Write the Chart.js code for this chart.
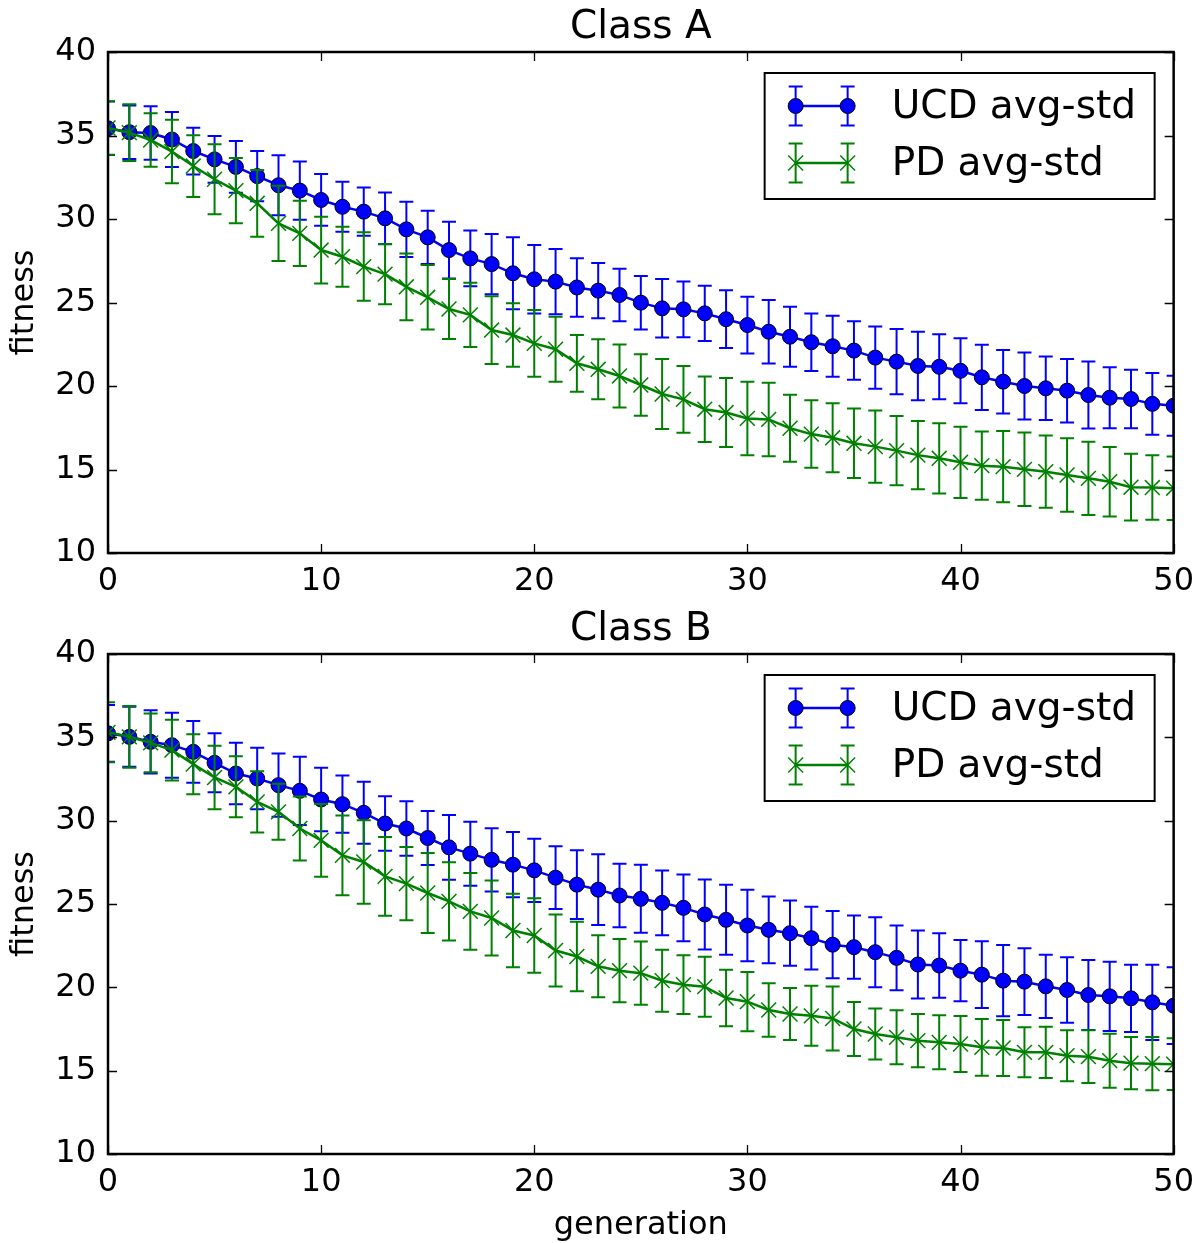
<!DOCTYPE html>
<html>
<head>
<meta charset="utf-8">
<title>Fitness per generation</title>
<script src="https://cdn.jsdelivr.net/npm/chart.js@4.4.1/dist/chart.umd.min.js"></script>
<style>
  html, body { margin: 0; padding: 0; background: #fff; }
  #wrap { position: relative; width: 1203px; height: 1243px; }
  #wrap canvas { position: absolute; left: 0; }
  #chartA { top: 0; }
  #chartB { top: 600px; }
</style>
</head>
<body>
<div id="wrap">
  <canvas id="chartA" width="1203" height="600"></canvas>
  <canvas id="chartB" width="1203" height="643"></canvas>
</div>
<script>
// Generations on the x axis
const generation = [0,1,2,3,4,5,6,7,8,9,10,11,12,13,14,15,16,17,18,19,20,21,22,23,24,25,
  26,27,28,29,30,31,32,33,34,35,36,37,38,39,40,41,42,43,44,45,46,47,48,49,50];

// Class A: mean fitness and standard deviation per generation
const ucdAvgA = [35.43,35.2,35.15,34.76,34.07,33.57,33.12,32.57,32.02,31.7,31.14,30.73,30.44,30.04,29.38,28.9,
  28.14,27.64,27.3,26.75,26.39,26.25,25.9,25.71,25.45,24.99,24.65,24.59,24.35,24.0,23.65,23.25,22.95,22.62,
  22.38,22.12,21.7,21.46,21.2,21.15,20.91,20.52,20.26,20.0,19.86,19.72,19.46,19.3,19.22,18.93,18.82];
const ucdStdA = [1.6,1.6,1.6,1.65,1.4,1.4,1.55,1.5,1.8,1.75,1.55,1.5,1.45,1.55,1.65,1.6,1.7,1.67,1.8,2.15,
  2.05,1.95,1.75,1.65,1.57,1.6,1.75,1.67,1.65,1.73,1.7,1.9,1.8,1.72,1.82,1.75,1.87,1.95,2.05,1.95,1.95,1.95,
  1.9,2.0,1.9,1.9,2.0,1.83,1.75,1.85,1.8];
const pdAvgA = [35.45,35.17,34.73,34.04,33.17,32.38,31.7,30.94,29.74,29.14,28.14,27.74,27.15,26.7,25.94,25.31,
  24.61,24.26,23.35,23.05,22.55,22.2,21.36,21.0,20.6,20.06,19.52,19.2,18.61,18.41,18.06,18.0,17.47,17.12,
  16.9,16.57,16.37,16.13,15.86,15.67,15.43,15.23,15.17,15.01,14.87,14.67,14.47,14.27,13.94,13.92,13.88];
const pdStdA = [1.6,1.7,1.6,1.9,1.85,2.1,1.95,2.0,2.25,1.95,2.0,1.8,2.05,1.8,2.0,1.93,1.8,1.93,2.03,1.9,
  2.0,1.95,1.7,1.8,1.88,1.84,2.1,2.0,1.96,2.07,2.2,2.2,2.0,2.02,2.06,2.08,2.16,2.07,2.04,2.1,2.13,2.04,
  2.13,2.2,2.16,2.2,2.19,2.08,2.0,1.93,1.9];

// Class B: mean fitness and standard deviation per generation
const ucdAvgB = [35.24,35.03,34.73,34.53,34.13,33.47,32.83,32.53,32.13,31.79,31.27,30.99,30.47,29.83,29.53,28.96,
  28.4,28.02,27.65,27.36,27.02,26.58,26.16,25.86,25.51,25.31,25.07,24.77,24.37,24.05,23.71,23.45,23.25,22.95,
  22.56,22.41,22.11,21.77,21.37,21.31,21.0,20.76,20.4,20.34,20.06,19.84,19.54,19.46,19.34,19.1,18.9];
const ucdStdB = [1.7,1.8,1.9,1.95,1.85,1.77,1.84,1.85,1.9,2.05,1.9,1.72,1.86,1.64,1.64,1.62,1.94,1.92,1.9,1.96,
  1.9,1.88,2.06,2.12,1.9,2.04,1.94,2.0,2.1,2.1,2.14,2.0,1.96,1.88,2.02,1.9,2.1,1.94,2.04,1.94,1.84,2.0,
  2.14,2.0,1.9,1.96,2.1,2.08,2.02,2.26,2.3];
const pdAvgB = [35.3,35.03,34.67,34.23,33.39,32.59,32.03,31.13,30.53,29.53,28.82,27.92,27.52,26.66,26.22,25.66,
  25.16,24.56,24.16,23.41,23.11,22.21,21.85,21.26,21.0,20.85,20.4,20.16,20.04,19.36,19.14,18.64,18.4,18.29,
  18.13,17.5,17.2,17.0,16.8,16.7,16.6,16.4,16.36,16.1,16.1,15.9,15.84,15.6,15.45,15.42,15.39];
const pdStdB = [1.8,1.85,1.76,1.82,1.8,1.9,1.83,1.84,1.68,1.92,2.18,2.39,2.5,2.36,2.2,2.4,2.35,2.3,2.25,2.2,
  2.24,2.16,2.08,1.86,1.9,1.9,1.86,1.76,1.8,1.7,1.78,1.6,1.56,1.8,1.92,1.62,1.53,1.62,1.6,1.62,1.68,1.7,
  1.68,1.5,1.54,1.53,1.58,1.62,1.57,1.6,1.55];

// Axis ticks
const xTicks = [0, 10, 20, 30, 40, 50];
const yTicks = [10, 15, 20, 25, 30, 35, 40];

const seriesNames = ['UCD avg-std', 'PD avg-std'];
const BLUE = '#0000ff';
const GREEN = '#008000';
const FONT = 'DejaVu Sans';
const TICK_SIZE = 32;
const BIG_SIZE = 39;
const CAP = 7;

Chart.defaults.font.family = FONT;
Chart.defaults.color = '#000';

// Vertical error bars with caps, drawn just before each dataset's line and markers
const errorBars = {
  id: 'errorBars',
  beforeDatasetDraw(chart, args) {
    const ds = chart.data.datasets[args.index];
    if (!ds.errors) return;
    const { ctx, chartArea: a, scales } = chart;
    ctx.save();
    ctx.beginPath();
    ctx.rect(a.left, a.top, a.right - a.left, a.bottom - a.top);
    ctx.clip();
    ctx.strokeStyle = ds.borderColor;
    ctx.lineWidth = 2;
    ctx.beginPath();
    ds.data.forEach((p, i) => {
      const x = scales.x.getPixelForValue(p.x);
      const yt = scales.y.getPixelForValue(p.y + ds.errors[i]);
      const yb = scales.y.getPixelForValue(p.y - ds.errors[i]);
      ctx.moveTo(x, yt); ctx.lineTo(x, yb);
      ctx.moveTo(x - CAP, yt); ctx.lineTo(x + CAP, yt);
      ctx.moveTo(x - CAP, yb); ctx.lineTo(x + CAP, yb);
    });
    ctx.stroke();
    ctx.restore();
  }
};

// Box around the plot with inward ticks on all four sides
const frame = {
  id: 'frame',
  afterDatasetsDraw(chart) {
    const { ctx, chartArea: a, scales } = chart;
    const len = 9;
    ctx.save();
    ctx.strokeStyle = '#000';
    ctx.lineWidth = 1.3;
    ctx.beginPath();
    xTicks.forEach(t => {
      const x = Math.round(scales.x.getPixelForValue(t)) + 0.5;
      ctx.moveTo(x, a.bottom); ctx.lineTo(x, a.bottom - len);
      ctx.moveTo(x, a.top); ctx.lineTo(x, a.top + len);
    });
    yTicks.forEach(t => {
      const y = Math.round(scales.y.getPixelForValue(t)) + 0.5;
      ctx.moveTo(a.left, y); ctx.lineTo(a.left + len, y);
      ctx.moveTo(a.right, y); ctx.lineTo(a.right - len, y);
    });
    ctx.stroke();
    ctx.lineWidth = 2.5;
    ctx.strokeRect(a.left, a.top, a.right - a.left, a.bottom - a.top);
    ctx.restore();
  }
};

// Boxed legend in the upper right of the plot
const boxLegend = {
  id: 'boxLegend',
  afterDraw(chart) {
    const { ctx, chartArea: a } = chart;
    const w = 390, h = 126;
    const bx = a.right - 19 - w, by = a.top + 21;
    ctx.save();
    ctx.fillStyle = '#fff';
    ctx.fillRect(bx, by, w, h);
    ctx.strokeStyle = '#000';
    ctx.lineWidth = 2;
    ctx.strokeRect(bx, by, w, h);
    const rows = [by + 33, by + 90];
    const x1 = bx + 31, x2 = bx + 83;
    chart.data.datasets.slice().sort((p, q) => p.legendIndex - q.legendIndex).forEach((ds, r) => {
      const y = rows[r];
      ctx.strokeStyle = ds.borderColor;
      ctx.lineWidth = 2;
      ctx.beginPath();
      [x1, x2].forEach(x => {
        ctx.moveTo(x, y - 19.5); ctx.lineTo(x, y + 19.5);
        ctx.moveTo(x - CAP, y - 19.5); ctx.lineTo(x + CAP, y - 19.5);
        ctx.moveTo(x - CAP, y + 19.5); ctx.lineTo(x + CAP, y + 19.5);
      });
      ctx.stroke();
      ctx.lineWidth = 2.5;
      ctx.beginPath();
      ctx.moveTo(x1, y); ctx.lineTo(x2, y);
      ctx.stroke();
      ctx.fillStyle = ds.pointBackgroundColor;
      ctx.strokeStyle = ds.pointBorderColor;
      ctx.lineWidth = ds.pointBorderWidth;
      [x1, x2].forEach(x => {
        Chart.helpers.drawPoint(ctx, {
          pointStyle: ds.pointStyle, radius: ds.pointRadius, borderWidth: ds.pointBorderWidth
        }, x, y);
      });
      ctx.fillStyle = '#000';
      ctx.font = BIG_SIZE + 'px "' + FONT + '"';
      ctx.textBaseline = 'middle';
      ctx.textAlign = 'left';
      ctx.fillText(seriesNames[r], bx + 127, y + 2);
    });
    ctx.restore();
  }
};

function points(values) {
  return generation.map((g, i) => ({ x: g, y: values[i] }));
}

function makeChart(id, title, ucdAvg, ucdStd, pdAvg, pdStd, opts) {
  return new Chart(document.getElementById(id), {
    type: 'line',
    data: {
      datasets: [
        {
          label: seriesNames[1], legendIndex: 1, order: 1,
          data: points(pdAvg), errors: pdStd,
          borderColor: GREEN, borderWidth: 2.5, tension: 0,
          pointStyle: 'crossRot', pointRadius: 10.5, pointBorderWidth: 1.5,
          pointBorderColor: GREEN, pointBackgroundColor: GREEN,
          clip: 0
        },
        {
          label: seriesNames[0], legendIndex: 0, order: 2,
          data: points(ucdAvg), errors: ucdStd,
          borderColor: BLUE, borderWidth: 2.5, tension: 0,
          pointStyle: 'circle', pointRadius: 7.5, pointBorderWidth: 1,
          pointBorderColor: '#000', pointBackgroundColor: BLUE,
          clip: 0
        }
      ]
    },
    options: {
      responsive: false,
      animation: false,
      devicePixelRatio: 1,
      layout: { padding: { left: 0, right: 27, top: 0, bottom: 0 } },
      plugins: {
        legend: { display: false },
        tooltip: { enabled: false },
        title: {
          display: true, text: title, color: '#000', fullSize: false,
          font: { size: BIG_SIZE, weight: 'normal', lineHeight: 1 },
          padding: opts.titlePad
        }
      },
      scales: {
        x: {
          type: 'linear', min: 0, max: 50,
          grid: { display: false, drawTicks: false },
          border: { display: false },
          afterBuildTicks: s => { s.ticks = xTicks.map(v => ({ value: v })); },
          ticks: { font: { size: TICK_SIZE }, padding: 9, maxRotation: 0, color: '#000' },
          title: opts.xTitle,
          afterFit: s => { s.height = opts.xHeight; }
        },
        y: {
          min: 10, max: 40,
          grid: { display: false, drawTicks: false },
          border: { display: false },
          afterBuildTicks: s => { s.ticks = yTicks.map(v => ({ value: v })); },
          ticks: { font: { size: TICK_SIZE }, padding: 12, color: '#000' },
          title: {
            display: true, text: 'fitness', color: '#000',
            font: { size: TICK_SIZE }, padding: { top: 5, bottom: 0 }
          },
          afterFit: s => { s.width = 108; }
        }
      }
    },
    plugins: [errorBars, frame, boxLegend]
  });
}

makeChart('chartA', 'Class A', ucdAvgA, ucdStdA, pdAvgA, pdStdA, {
  titlePad: { top: 8, bottom: 5 },
  xHeight: 47,
  xTitle: { display: false }
});
makeChart('chartB', 'Class B', ucdAvgB, ucdStdB, pdAvgB, pdStdB, {
  titlePad: { top: 10, bottom: 5 },
  xHeight: 89,
  xTitle: {
    display: true, text: 'generation', color: '#000',
    font: { size: TICK_SIZE }, padding: { top: 0, bottom: -2 }
  }
});
</script>
</body>
</html>
